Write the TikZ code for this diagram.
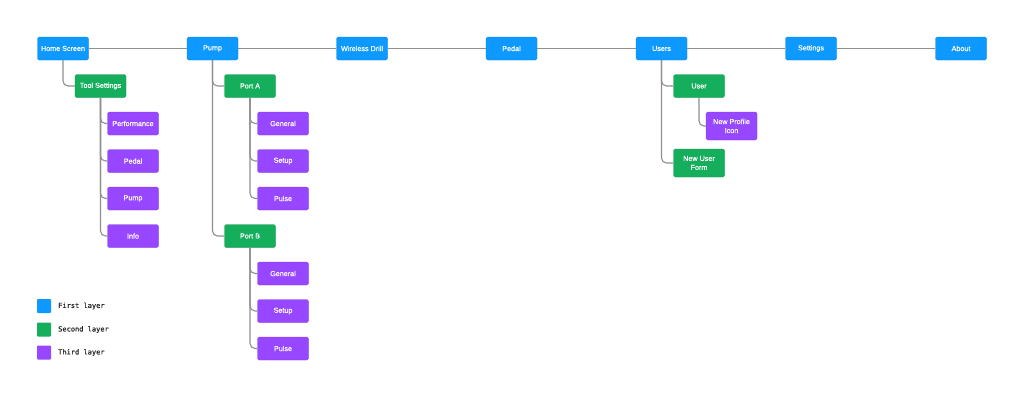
\documentclass[tikz,border=0pt]{standalone}
\usepackage{fontspec}
\setmainfont{Liberation Sans}
\newfontfamily\boxfont{Liberation Sans}[FakeBold=0.5]
\newfontfamily\legendfont{DejaVu Sans Mono}[FakeBold=0.3]
\definecolor{cblue}{HTML}{0D99FF}
\definecolor{cgreen}{HTML}{14AE5C}
\definecolor{cpurple}{HTML}{9747FF}
\definecolor{cline}{HTML}{8F8F8F}
\begin{document}
\begin{tikzpicture}[x=1pt,y=-1pt,
  box/.style={rectangle, rounded corners=1.5pt, minimum width=51pt, minimum height=23pt, inner sep=1pt, text=white, font=\boxfont\fontsize{7.2}{9}\selectfont, align=center},
  l1/.style={box, fill=cblue, draw=cblue!85!black, line width=0.3pt},
  l2/.style={box, fill=cgreen, draw=cgreen!85!black, line width=0.3pt},
  l3/.style={box, fill=cpurple, draw=cpurple!85!black, line width=0.3pt},
  conn/.style={draw=cline, line width=1.1pt, rounded corners=5pt},
  hconn/.style={draw=cline, line width=1.1pt},
  leg/.style={rectangle, minimum size=14pt, inner sep=0pt, rounded corners=0.8pt},
  legtext/.style={anchor=west, inner sep=0pt, font=\legendfont\fontsize{7}{8}\selectfont, text=black!85}
]
\useasboundingbox[fill=white] (0,0) rectangle (1024,397);
% first layer
\node[l1] (home) at (63,48.5) {Home Screen};
\node[l1] (pump) at (212.5,48.5) {Pump};
\node[l1] (drill) at (362,48.5) {Wireless Drill};
\node[l1] (pedal) at (511.5,48.5) {Pedal};
\node[l1] (users) at (661.5,48.5) {Users};
\node[l1] (settings) at (811,48.5) {Settings};
\node[l1] (about) at (961,48.5) {About};
\draw[hconn] (home) -- (pump);
\draw[hconn] (pump) -- (drill);
\draw[hconn] (drill) -- (pedal);
\draw[hconn] (pedal) -- (users);
\draw[hconn] (users) -- (settings);
\draw[hconn] (settings) -- (about);
% home screen
\node[l2] (tool) at (100.5,86) {Tool Settings};
\node[l3] (perf) at (133,123.5) {Performance};
\node[l3] (tpedal) at (133,161) {Pedal};
\node[l3] (tpump) at (133,198.5) {Pump};
\node[l3] (info) at (133,236) {Info};
\draw[conn] (home.south) |- (tool.west);
\draw[conn] (tool.south) |- (perf.west);
\draw[conn] (tool.south) |- (tpedal.west);
\draw[conn] (tool.south) |- (tpump.west);
\draw[conn] (tool.south) |- (info.west);
% pump
\node[l2] (porta) at (250,86) {Port A};
\node[l3] (ga) at (283,123.5) {General};
\node[l3] (sa) at (283,161) {Setup};
\node[l3] (pa) at (283,198.5) {Pulse};
\node[l2] (portb) at (250,236) {Port B};
\node[l3] (gb) at (283,273.5) {General};
\node[l3] (sb) at (283,311) {Setup};
\node[l3] (pb) at (283,348.5) {Pulse};
\draw[conn] (pump.south) |- (porta.west);
\draw[conn] (pump.south) |- (portb.west);
\draw[conn] (porta.south) |- (ga.west);
\draw[conn] (porta.south) |- (sa.west);
\draw[conn] (porta.south) |- (pa.west);
\draw[conn] (portb.south) |- (gb.west);
\draw[conn] (portb.south) |- (sb.west);
\draw[conn] (portb.south) |- (pb.west);
% users
\node[l2] (user) at (699,86) {User};
\node[l3, minimum height=28pt] (icon) at (731.5,126) {New Profile\\Icon};
\node[l2, minimum height=28pt] (form) at (699,163) {New User\\Form};
\draw[conn] (users.south) |- (user.west);
\draw[conn] (users.south) |- (form.west);
\draw[conn] (user.south) |- (icon.west);
% legend
\node[leg, fill=cblue] (k1) at (44,306) {};
\node[leg, fill=cgreen] (k2) at (44,329.5) {};
\node[leg, fill=cpurple] (k3) at (44,352.5) {};
\node[legtext] (t1) at (58,306) {First layer};
\node[legtext] (t2) at (58,329.5) {Second layer};
\node[legtext] (t3) at (58,352.5) {Third layer};
\end{tikzpicture}
\end{document}
